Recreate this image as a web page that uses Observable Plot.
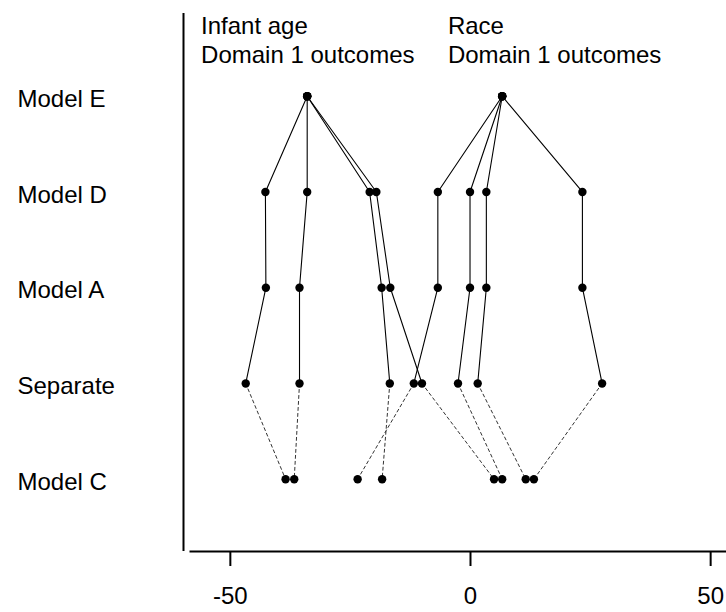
<!DOCTYPE html>
<html>
<head>
<meta charset="utf-8">
<script src="https://cdn.jsdelivr.net/npm/d3@7"></script>
<script src="https://cdn.jsdelivr.net/npm/@observablehq/plot@0.6"></script>
<style>
  html, body { margin: 0; padding: 0; background: #fff; }
  #chart svg { display: block; }
</style>
</head>
<body>
<div id="chart"></div>
<script>
// Model rows, top to bottom
const models = ["Model E", "Model D", "Model A", "Separate", "Model C"];

// Panel headers
const panels = ["Infant age\nDomain 1 outcomes", "Race\nDomain 1 outcomes"];
const panelHeaderX = [-56.1, -4.7];

// Estimates per outcome, in the order of `models`
const infantOutcomes = [
  [-34.0, -42.7, -42.6, -46.8, -38.5],
  [-34.0, -34.0, -35.6, -35.6, -36.7],
  [-34.0, -21.0, -18.5, -16.8, -18.4],
  [-34.0, -19.6, -16.7, -10.1,   4.9]
];
const raceOutcomes = [
  [6.6,  -6.8,  -6.8, -11.8, -23.5],
  [6.6,  -0.1,  -0.1,  -2.6,   6.6],
  [6.6,   3.3,   3.3,   1.5,  11.5],
  [6.6,  23.3,  23.3,  27.4,  13.2]
];

const xTicks = [-50, 0, 50];

// Build a tidy table
const level = (i) => models.length - i; // Model E on top
const rows = [];
[infantOutcomes, raceOutcomes].forEach((panel, p) => {
  panel.forEach((vals, o) => {
    vals.forEach((v, m) => {
      rows.push({panel: p, outcome: o, key: p + "-" + o, model: models[m], m, x: v, y: level(m)});
    });
  });
});
const solid = rows.filter(d => d.m <= 3);
const dashed = rows.filter(d => d.m >= 3);
const headers = panels.map((t, i) => ({text: t, x: panelHeaderX[i]}));

const xDomain = [-58.4, 53.3];
const yDomain = [0.245, 5.864];

const chart = Plot.plot({
  width: 726,
  height: 612,
  marginLeft: 189.5,
  marginRight: 0,
  marginTop: 13,
  marginBottom: 61,
  style: {fontFamily: "'Liberation Sans', Arial, sans-serif", fontSize: "24px", color: "#000", background: "#fff"},
  x: {domain: xDomain, axis: null},
  y: {domain: yDomain, axis: null},
  marks: [
    // vertical axis line
    Plot.ruleX([xDomain[0]], {dx: -6.5, stroke: "#000", strokeWidth: 2}),
    // horizontal axis line
    Plot.ruleY([yDomain[0]], {stroke: "#000", strokeWidth: 2}),
    Plot.axisX({
      ticks: xTicks, tickSize: 15, tickPadding: 20, strokeWidth: 2,
      fontSize: 24, label: null, tickFormat: d => String(d), anchor: "bottom"
    }),
    Plot.axisY({
      ticks: models.map((_, i) => level(i)),
      tickFormat: d => models[models.length - d],
      tickSize: 0, tickPadding: 172.5, textAnchor: "start",
      fontSize: 24, label: null, anchor: "left", dy: 3
    }),
    Plot.line(solid, {x: "x", y: "y", z: "key", stroke: "#000", strokeWidth: 1.1}),
    Plot.line(dashed, {x: "x", y: "y", z: "key", stroke: "#333", strokeWidth: 1, strokeDasharray: "3,3"}),
    Plot.dot(rows, {x: "x", y: "y", r: 4.2, fill: "#000", stroke: null}),
    Plot.text(headers, {
      x: "x", text: "text", frameAnchor: "top", lineAnchor: "top",
      textAnchor: "start", fontSize: 24, lineHeight: 1.2, fill: "#000"
    })
  ]
});
document.getElementById("chart").appendChild(chart);
</script>
</body>
</html>
